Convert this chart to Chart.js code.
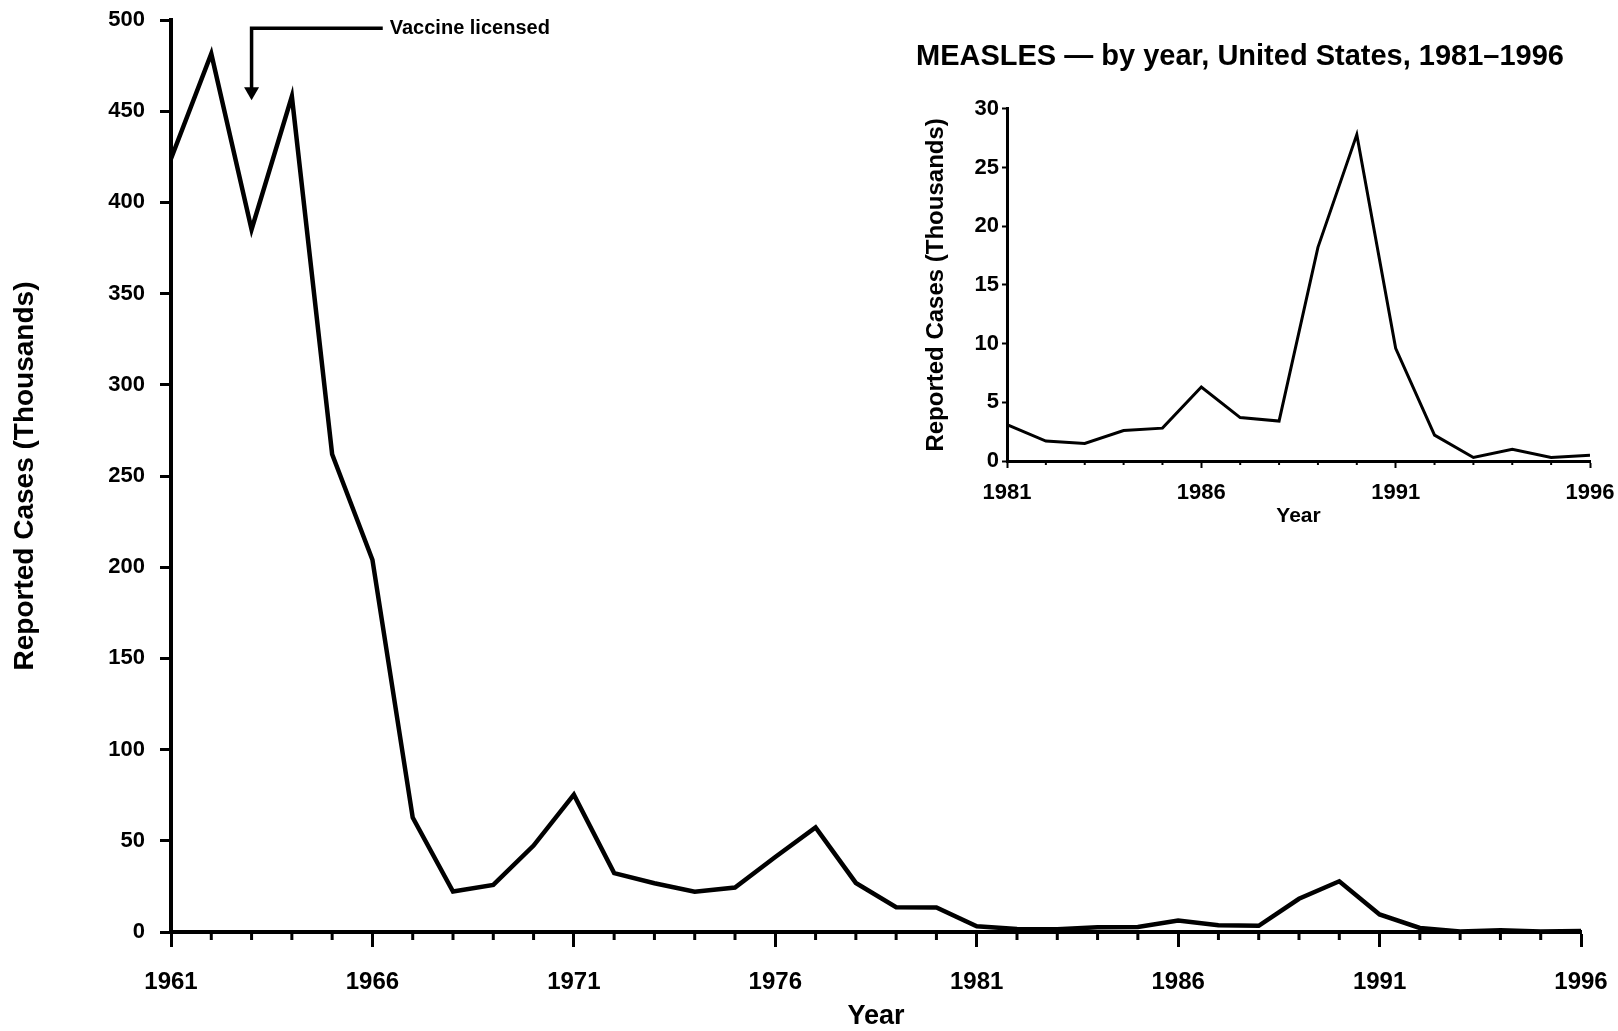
<!DOCTYPE html>
<html lang="en">
<head>
    <meta charset="UTF-8">
    <title>Measles, United States, 1961-1996</title>
    <script src="https://cdn.jsdelivr.net/npm/chart.js"></script>
    <style>
        body { margin: 0; background: #fff; }
        #wrap { position: relative; width: 1618px; height: 1031px; }
        #mainChart { position: absolute; left: 0; top: 0; }
        #insetChart { position: absolute; left: 880px; top: 20px; }
    </style>
</head>
<body>
<div id="wrap">
    <canvas id="mainChart" width="1618" height="1031"></canvas>
    <canvas id="insetChart" width="738" height="520"></canvas>
</div>
<script>
    // reported cases, thousands
    const years = [1961, 1962, 1963, 1964, 1965, 1966, 1967, 1968, 1969, 1970, 1971, 1972,
                   1973, 1974, 1975, 1976, 1977, 1978, 1979, 1980, 1981, 1982, 1983, 1984,
                   1985, 1986, 1987, 1988, 1989, 1990, 1991, 1992, 1993, 1994, 1995, 1996];
    const cases = [423.9, 481.5, 385.2, 458.1, 261.9, 204.1, 62.7, 22.2, 25.8, 47.4, 75.3, 32.3,
                   26.7, 22.1, 24.4, 41.1, 57.3, 26.9, 13.6, 13.5, 3.1, 1.7, 1.5, 2.6,
                   2.8, 6.3, 3.7, 3.4, 18.2, 27.8, 9.6, 2.2, 0.3, 1.0, 0.3, 0.5];

    const insetYears = [1981, 1982, 1983, 1984, 1985, 1986, 1987, 1988,
                        1989, 1990, 1991, 1992, 1993, 1994, 1995, 1996];
    const insetCases = [3.1, 1.7, 1.5, 2.6, 2.8, 6.3, 3.7, 3.4,
                        18.2, 27.8, 9.6, 2.2, 0.3, 1.0, 0.3, 0.5];

    const insetTitle = 'MEASLES \u2014 by year, United States, 1981\u20131996';
    const yTitle = 'Reported Cases (Thousands)';

    // annotation: arrow at 1963 pointing down, with label to the right
    const vaccineYear = 1963;
    const vaccineLabel = 'Vaccine licensed';
    const noteLevel = 495.5;
    const arrowTip = 456;
    const noteTextYear = 1966.43;

    const FONT = "'Liberation Sans', Arial, sans-serif";

    function points(xs, ys) {
        return xs.map((x, i) => ({ x: x, y: ys[i] }));
    }

    function isMajor(v, start) {
        return (v - start) % 5 === 0;
    }

    // short ticks for the unlabelled years
    const minorTicks = {
        id: 'minorTicks',
        afterDraw(chart, args, opts) {
            const sx = chart.scales.x;
            const ctx = chart.ctx;
            ctx.save();
            ctx.strokeStyle = '#000';
            ctx.lineWidth = opts.width;
            for (let v = sx.min; v <= sx.max; v++) {
                if (isMajor(v, sx.min)) continue;
                const px = sx.getPixelForValue(v);
                ctx.beginPath();
                ctx.moveTo(px, sx.top);
                ctx.lineTo(px, sx.top + opts.length);
                ctx.stroke();
            }
            ctx.restore();
        }
    };

    const vaccineNote = {
        id: 'vaccineNote',
        afterDatasetsDraw(chart) {
            const { x, y } = chart.scales;
            const ctx = chart.ctx;
            const ax = x.getPixelForValue(vaccineYear);
            const top = y.getPixelForValue(noteLevel);
            const tip = y.getPixelForValue(arrowTip);
            const tx = x.getPixelForValue(noteTextYear);
            ctx.save();
            ctx.strokeStyle = '#000';
            ctx.fillStyle = '#000';
            ctx.lineWidth = 3.5;
            ctx.lineJoin = 'miter';
            ctx.beginPath();
            ctx.moveTo(tx - 7, top);
            ctx.lineTo(ax, top);
            ctx.lineTo(ax, tip - 12);
            ctx.stroke();
            ctx.beginPath();
            ctx.moveTo(ax - 7.5, tip - 13);
            ctx.lineTo(ax + 7.5, tip - 13);
            ctx.lineTo(ax, tip);
            ctx.closePath();
            ctx.fill();
            ctx.font = 'bold 20px ' + FONT;
            ctx.textAlign = 'left';
            ctx.textBaseline = 'middle';
            ctx.fillText(vaccineLabel, tx, top);
            ctx.restore();
        }
    };

    function boldFont(size) {
        return { family: FONT, size: size, weight: 'bold' };
    }

    // main chart, 1961-1996
    new Chart(document.getElementById('mainChart').getContext('2d'), {
        type: 'line',
        data: {
            datasets: [{
                data: points(years, cases),
                borderColor: '#000',
                borderWidth: 4.5,
                borderJoinStyle: 'miter',
                pointRadius: 0,
                tension: 0,
                fill: false
            }]
        },
        options: {
            responsive: false,
            animation: false,
            layout: { padding: { top: 20, right: 37, bottom: 0, left: 0 } },
            plugins: {
                legend: { display: false },
                tooltip: { enabled: false },
                minorTicks: { length: 8, width: 3 }
            },
            scales: {
                x: {
                    type: 'linear',
                    min: years[0],
                    max: years[years.length - 1],
                    afterFit: s => { s.height = 99; s.paddingLeft = 0; s.paddingRight = 0; },
                    ticks: {
                        stepSize: 1,
                        autoSkip: false,
                        maxRotation: 0,
                        padding: 21,
                        color: '#000',
                        font: boldFont(24),
                        callback: v => isMajor(v, years[0]) ? String(v) : ''
                    },
                    grid: {
                        drawOnChartArea: false,
                        tickLength: 15,
                        tickWidth: 3,
                        tickColor: c => (c.tick && isMajor(c.tick.value, years[0])) ? '#000' : 'rgba(0,0,0,0)'
                    },
                    border: { color: '#000', width: 4 },
                    title: {
                        display: true,
                        text: 'Year',
                        color: '#000',
                        font: boldFont(27),
                        padding: { top: 0, bottom: -2 }
                    }
                },
                y: {
                    min: 0,
                    max: 500,
                    afterFit: s => { s.width = 171; s.paddingTop = 0; s.paddingBottom = 0; },
                    ticks: { stepSize: 50, padding: 15, color: '#000', font: boldFont(22) },
                    grid: { drawOnChartArea: false, tickLength: 11, tickWidth: 3, tickColor: '#000' },
                    border: { color: '#000', width: 4 },
                    title: {
                        display: true,
                        text: yTitle,
                        color: '#000',
                        font: boldFont(28),
                        padding: { top: 8, bottom: 0 }
                    }
                }
            }
        },
        plugins: [minorTicks, vaccineNote]
    });

    // inset, 1981-1996
    new Chart(document.getElementById('insetChart').getContext('2d'), {
        type: 'line',
        data: {
            datasets: [{
                data: points(insetYears, insetCases),
                borderColor: '#000',
                borderWidth: 3,
                borderJoinStyle: 'miter',
                pointRadius: 0,
                tension: 0,
                fill: false
            }]
        },
        options: {
            responsive: false,
            animation: false,
            layout: { padding: { top: 0, right: 28, bottom: 0, left: 10 } },
            plugins: {
                legend: { display: false },
                tooltip: { enabled: false },
                title: {
                    display: true,
                    text: insetTitle,
                    color: '#000',
                    font: boldFont(29),
                    padding: { top: 20, bottom: 34 }
                },
                minorTicks: { length: 4, width: 2 }
            },
            scales: {
                x: {
                    type: 'linear',
                    min: insetYears[0],
                    max: insetYears[insetYears.length - 1],
                    afterFit: s => { s.height = 79; s.paddingLeft = 0; s.paddingRight = 0; },
                    ticks: {
                        stepSize: 1,
                        autoSkip: false,
                        maxRotation: 0,
                        padding: 12,
                        color: '#000',
                        font: boldFont(22),
                        callback: v => isMajor(v, insetYears[0]) ? String(v) : ''
                    },
                    grid: {
                        drawOnChartArea: false,
                        tickLength: 7,
                        tickWidth: 2,
                        tickColor: c => (c.tick && isMajor(c.tick.value, insetYears[0])) ? '#000' : 'rgba(0,0,0,0)'
                    },
                    border: { color: '#000', width: 3 },
                    title: {
                        display: true,
                        text: 'Year',
                        color: '#000',
                        font: boldFont(21),
                        padding: { top: 0, bottom: 11 }
                    }
                },
                y: {
                    min: 0,
                    max: 30,
                    afterFit: s => { s.width = 117; s.paddingTop = 0; s.paddingBottom = 0; },
                    ticks: { stepSize: 5, padding: 3, color: '#000', font: boldFont(22) },
                    grid: { drawOnChartArea: false, tickLength: 5, tickWidth: 2, tickColor: '#000' },
                    border: { color: '#000', width: 3 },
                    title: {
                        display: true,
                        text: yTitle,
                        color: '#000',
                        font: boldFont(24),
                        padding: { top: 32, bottom: 0 }
                    }
                }
            }
        },
        plugins: [minorTicks]
    });
</script>
</body>
</html>
